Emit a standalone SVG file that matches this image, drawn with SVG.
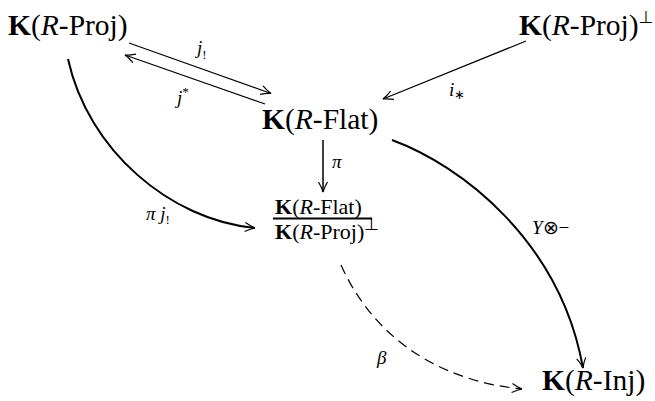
<svg xmlns="http://www.w3.org/2000/svg" width="655" height="401" viewBox="0 0 655 401">
<style>
.n{font-family:"Liberation Serif","Times New Roman",serif;font-size:29.5px;fill:#000}
.f{font-family:"Liberation Serif","Times New Roman",serif;font-size:22px;fill:#000}
.b{font-weight:bold}
.i{font-style:italic}
.l{font-family:"Liberation Serif","Times New Roman",serif;font-size:19px;font-style:italic;fill:#000}
.s{font-size:13px;font-style:normal}
.perp{font-family:"DejaVu Sans",sans-serif;font-size:17px}
.c{fill:none;stroke:#000}
</style>
<defs>
<marker id="ah" markerUnits="userSpaceOnUse" markerWidth="14" markerHeight="12" viewBox="-12 -6 14 12" refX="0" refY="0" orient="auto">
<path d="M-10,-4.5 Q-4,-1 0,0 Q-4,1 -10,4.5" fill="none" stroke="#000" stroke-width="1.2"/>
</marker>
</defs>
<g id="connectors">
<path id="e-j1" class="c" stroke-width="1.2" d="M129,43 L271,93.5" marker-end="url(#ah)"/>
<path id="e-jstar" class="c" stroke-width="1.2" d="M265,104 L125,55" marker-end="url(#ah)"/>
<path id="e-istar" class="c" stroke-width="1.2" d="M526,41 L383,99" marker-end="url(#ah)"/>
<path id="e-pi" class="c" stroke-width="1.5" d="M323,140 L323,192" marker-end="url(#ah)"/>
<path id="e-pij" class="c" stroke-width="2" d="M68,59 C88,150 170,220 255,228" marker-end="url(#ah)"/>
<path id="e-Y" class="c" stroke-width="2" d="M392,140 C460,165 560,240 583,368" marker-end="url(#ah)"/>
<path id="e-beta" class="c" stroke-width="1.2" stroke-dasharray="10,6" d="M341,265 C370,330 430,380 522,389" marker-end="url(#ah)"/>
<text class="l" x="197" y="54">j<tspan class="s" dy="5">!</tspan></text>
<text class="l" x="177" y="104">j<tspan class="s" dy="-8">*</tspan></text>
<text class="l" x="449" y="96">i<tspan class="s" dy="3">∗</tspan></text>
<text class="l" x="332" y="168">π</text>
<text class="l" x="146" y="220">π j<tspan class="s" dy="4">!</tspan></text>
<text class="l" x="532" y="234">Y<tspan font-style="normal">⊗−</tspan></text>
<text class="l" x="377" y="364">β</text>
</g>
<g id="n-proj">
<text class="n" x="8" y="35"><tspan class="b">K</tspan>(<tspan class="i">R</tspan>-Proj)</text>
</g>
<g id="n-projperp">
<text class="n" x="519" y="35"><tspan class="b">K</tspan>(<tspan class="i">R</tspan>-Proj)<tspan class="perp" dy="-12">⊥</tspan></text>
</g>
<g id="n-flat">
<text class="n" x="262" y="129"><tspan class="b">K</tspan>(<tspan class="i">R</tspan>-Flat)</text>
</g>
<g id="n-quot">
<text class="f" x="275" y="214"><tspan class="b">K</tspan>(<tspan class="i">R</tspan>-Flat)</text>
<rect x="273" y="217.5" width="99" height="2" fill="#000"/>
<text class="f" x="275" y="239"><tspan class="b">K</tspan>(<tspan class="i">R</tspan>-Proj)<tspan class="perp" font-size="13" dy="-9">⊥</tspan></text>
</g>
<g id="n-inj">
<text class="n" x="542" y="390"><tspan class="b">K</tspan>(<tspan class="i">R</tspan>-Inj)</text>
</g>
</svg>
